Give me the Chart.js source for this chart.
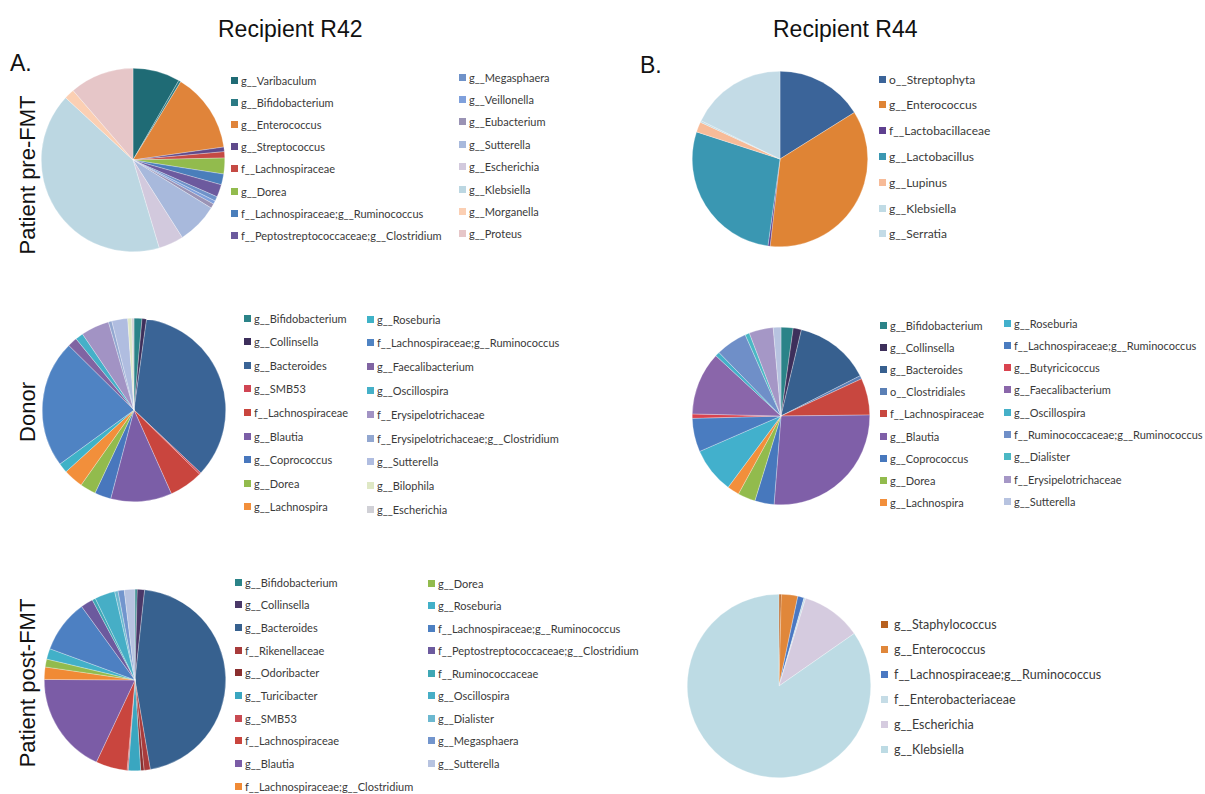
<!DOCTYPE html>
<html>
<head>
<meta charset="utf-8">
<script src="https://cdn.jsdelivr.net/npm/chart.js@4.4.0/dist/chart.umd.min.js"></script>
<style>
  html, body { margin:0; padding:0; background:#fff; }
  body { width:1205px; height:794px; position:relative; overflow:hidden; font-family:"Liberation Sans", Arial, sans-serif; }
  .t { position:absolute; color:#111; font-size:23px; white-space:nowrap; }
  .rot { position:absolute; color:#111; font-size:22px; white-space:nowrap; transform:translate(-50%,-50%) rotate(-90deg); }
  .pie { position:absolute; }
  .lg { position:absolute; white-space:nowrap; color:#3a3a3a; font-family:"Lato","Open Sans",sans-serif; display:flex; align-items:center; }
  .lg i { display:inline-block; width:7px; height:7px; margin-right:3px; }
</style>
</head>
<body>
<div class="t" style="left:218px;top:16px;">Recipient R42</div>
<div class="t" style="left:773px;top:16px;">Recipient R44</div>
<div class="t" style="left:10px;top:50px;">A.</div>
<div class="t" style="left:640px;top:52px;">B.</div>
<div class="rot" style="left:28px;top:175px;">Patient pre-FMT</div>
<div class="rot" style="left:28px;top:412px;">Donor</div>
<div class="rot" style="left:28px;top:683px;">Patient post-FMT</div>

<script>
// ---------- DATA (percent of reads) ----------
const r42PreLabels = ["g__Varibaculum","g__Bifidobacterium","g__Enterococcus","g__Streptococcus","f__Lachnospiraceae","g__Dorea","f__Lachnospiraceae;g__Ruminococcus","f__Peptostreptococcaceae;g__Clostridium","g__Megasphaera","g__Veillonella","g__Eubacterium","g__Sutterella","g__Escherichia","g__Klebsiella","g__Morganella","g__Proteus"];
const r42PreValues = [8.3,0.4,14.0,0.8,1.1,2.8,1.9,2.2,0.8,0.6,0.8,7.2,4.4,41.4,1.8,11.3];
const r42PreColors = ["#1f6b75","#2b7a84","#e0843a","#5f4a8b","#c54a44","#92bb4d","#4a7ebb","#6c5a9e","#6f92c9","#7fa0dc","#9a93b5","#a8b9dc","#d2c9dd","#bcd7e2","#fbcfb3","#e6c6c8"];

const r42DonorLabels = ["g__Bifidobacterium","g__Collinsella","g__Bacteroides","g__SMB53","f__Lachnospiraceae","g__Blautia","g__Coprococcus","g__Dorea","g__Lachnospira","g__Roseburia","f__Lachnospiraceae;g__Ruminococcus","g__Faecalibacterium","g__Oscillospira","f__Erysipelotrichaceae","f__Erysipelotrichaceae;g__Clostridium","g__Sutterella","g__Bilophila","g__Escherichia"];
const r42DonorValues = [1.4,0.8,34.9,0.3,6.0,10.8,2.9,2.8,3.5,1.7,22.5,1.7,1.4,5.0,0.6,2.8,0.7,0.4];
const r42DonorColors = ["#2b8388","#3d2f5b","#3a6496","#d04553","#c9453e","#7b5ea7","#4877bd","#92bb4d","#f28f3b","#3fb2c7","#4f83c3","#8064a2","#45b0c8","#a293c4","#92a7d0","#b0bde0","#dfe8c5","#d0d0d6"];

const r42PostLabels = ["g__Bifidobacterium","g__Collinsella","g__Bacteroides","f__Rikenellaceae","g__Odoribacter","g__Turicibacter","g__SMB53","f__Lachnospiraceae","g__Blautia","f__Lachnospiraceae;g__Clostridium","g__Dorea","g__Roseburia","f__Lachnospiraceae;g__Ruminococcus","f__Peptostreptococcaceae;g__Clostridium","f__Ruminococcaceae","g__Oscillospira","g__Dialister","g__Megasphaera","g__Sutterella"];
const r42PostValues = [0.4,1.3,45.6,1.1,0.6,2.2,0.2,5.6,18.1,2.2,1.4,1.9,9.4,2.2,0.6,3.6,0.6,1.1,1.9];
const r42PostColors = ["#2b8388","#4a3868","#37618f","#a83b3b","#8a2f2f","#3aa6c0","#c84a52","#c9453e","#7b5ca6","#f08a35","#92bb4d","#42b0c8","#4d80c2","#6c5a9e","#3ea7b5","#46aec6","#6cb8d0","#7295cd","#b7c3e0"];

const r44PreLabels = ["o__Streptophyta","g__Enterococcus","f__Lactobacillaceae","g__Lactobacillus","g__Lupinus","g__Klebsiella","g__Serratia"];
const r44PreValues = [16.1,35.7,0.4,27.8,1.9,0.3,17.8];
const r44PreColors = ["#3b6499","#df8435","#5e3f8f","#3a97b2","#f7bb98","#c0dbe5","#c3dbe6"];

const r44DonorLabels = ["g__Bifidobacterium","g__Collinsella","g__Bacteroides","o__Clostridiales","f__Lachnospiraceae","g__Blautia","g__Coprococcus","g__Dorea","g__Lachnospira","g__Roseburia","f__Lachnospiraceae;g__Ruminococcus","g__Butyricicoccus","g__Faecalibacterium","g__Oscillospira","f__Ruminococcaceae;g__Ruminococcus","g__Dialister","f__Erysipelotrichaceae","g__Sutterella"];
const r44DonorValues = [2.2,1.5,13.8,0.6,6.7,26.4,3.5,3.2,2.2,8.3,6.1,0.8,11.5,0.8,5.7,0.8,4.4,1.4];
const r44DonorColors = ["#2b8388","#3d2f5b","#37608f","#5a7fb5","#c8473f","#7f5fa8","#4778bd","#92bb4d","#f28f3b","#42b0cc","#4a7cc0","#d9434f","#8a66aa","#45b0c8","#6f8fc8","#4bb8c4","#a597c6","#b7c3e0"];

const r44PostLabels = ["g__Staphylococcus","g__Enterococcus","f__Lachnospiraceae;g__Ruminococcus","f__Enterobacteriaceae","g__Escherichia","g__Klebsiella"];
const r44PostValues = [0.4,2.9,1.1,0.3,10.6,84.7];
const r44PostColors = ["#b8611f","#e0873a","#4a78c2","#c5dce6","#d5cbdf","#bddbe4"];

// ---------- LAYOUT ----------
function makePie(labels, values, colors, cx, cy, r) {
  const s = 2 * r + 2;
  const c = document.createElement('canvas');
  c.className = 'pie';
  c.width = s; c.height = s;
  c.style.left = (cx - r - 1) + 'px';
  c.style.top = (cy - r - 1) + 'px';
  c.style.width = s + 'px'; c.style.height = s + 'px';
  document.body.appendChild(c);
  new Chart(c.getContext('2d'), {
    type: 'pie',
    data: { labels: labels, datasets: [{ data: values, backgroundColor: colors, borderWidth: 0.5, borderColor: 'rgba(255,255,255,0.55)' }] },
    options: {
      responsive: false, animation: false,
      layout: { padding: 0 },
      plugins: { legend: { display: false }, tooltip: { enabled: false } }
    }
  });
}

function makeLegend(labels, colors, cols, fontSize) {
  let idx = 0;
  cols.forEach(col => {
    for (let k = 0; k < col.n && idx < labels.length; k++, idx++) {
      const d = document.createElement('div');
      d.className = 'lg';
      d.style.fontSize = fontSize + 'px';
      d.style.height = (fontSize + 4) + 'px';
      d.style.left = col.x + 'px';
      d.style.top = (col.y0 + k * col.dy - (fontSize + 4) / 2) + 'px';
      const sq = document.createElement('i');
      sq.style.background = colors[idx];
      if (col.gap) sq.style.marginRight = col.gap + 'px';
      d.appendChild(sq);
      d.appendChild(document.createTextNode(labels[idx]));
      document.body.appendChild(d);
    }
  });
}

makePie(r42PreLabels, r42PreValues, r42PreColors, 133, 160, 91);
makeLegend(r42PreLabels, r42PreColors, [{x:231, y0:80, dy:22.2, n:8}, {x:459, y0:77, dy:22.4, n:8}], 11);

makePie(r42DonorLabels, r42DonorValues, r42DonorColors, 134, 410, 91);
makeLegend(r42DonorLabels, r42DonorColors, [{x:244, y0:318, dy:23.6, n:9}, {x:367, y0:319, dy:23.8, n:9}], 11);

makePie(r42PostLabels, r42PostValues, r42PostColors, 135, 680, 90);
makeLegend(r42PostLabels, r42PostColors, [{x:235, y0:582, dy:22.7, n:10}, {x:428, y0:583, dy:22.5, n:9}], 11);

makePie(r44PreLabels, r44PreValues, r44PreColors, 780, 159, 87);
makeLegend(r44PreLabels, r44PreColors, [{x:879, y0:79, dy:25.8, n:7}], 12);

makePie(r44DonorLabels, r44DonorValues, r44DonorColors, 781, 416, 88);
makeLegend(r44DonorLabels, r44DonorColors, [{x:880, y0:325, dy:22.2, n:9}, {x:1004, y0:323, dy:22.3, n:9}], 11);

makePie(r44PostLabels, r44PostValues, r44PostColors, 779, 686, 91);
makeLegend(r44PostLabels, r44PostColors, [{x:881, y0:624, dy:25.1, n:6, gap:6}], 12.5);
</script>
</body>
</html>
